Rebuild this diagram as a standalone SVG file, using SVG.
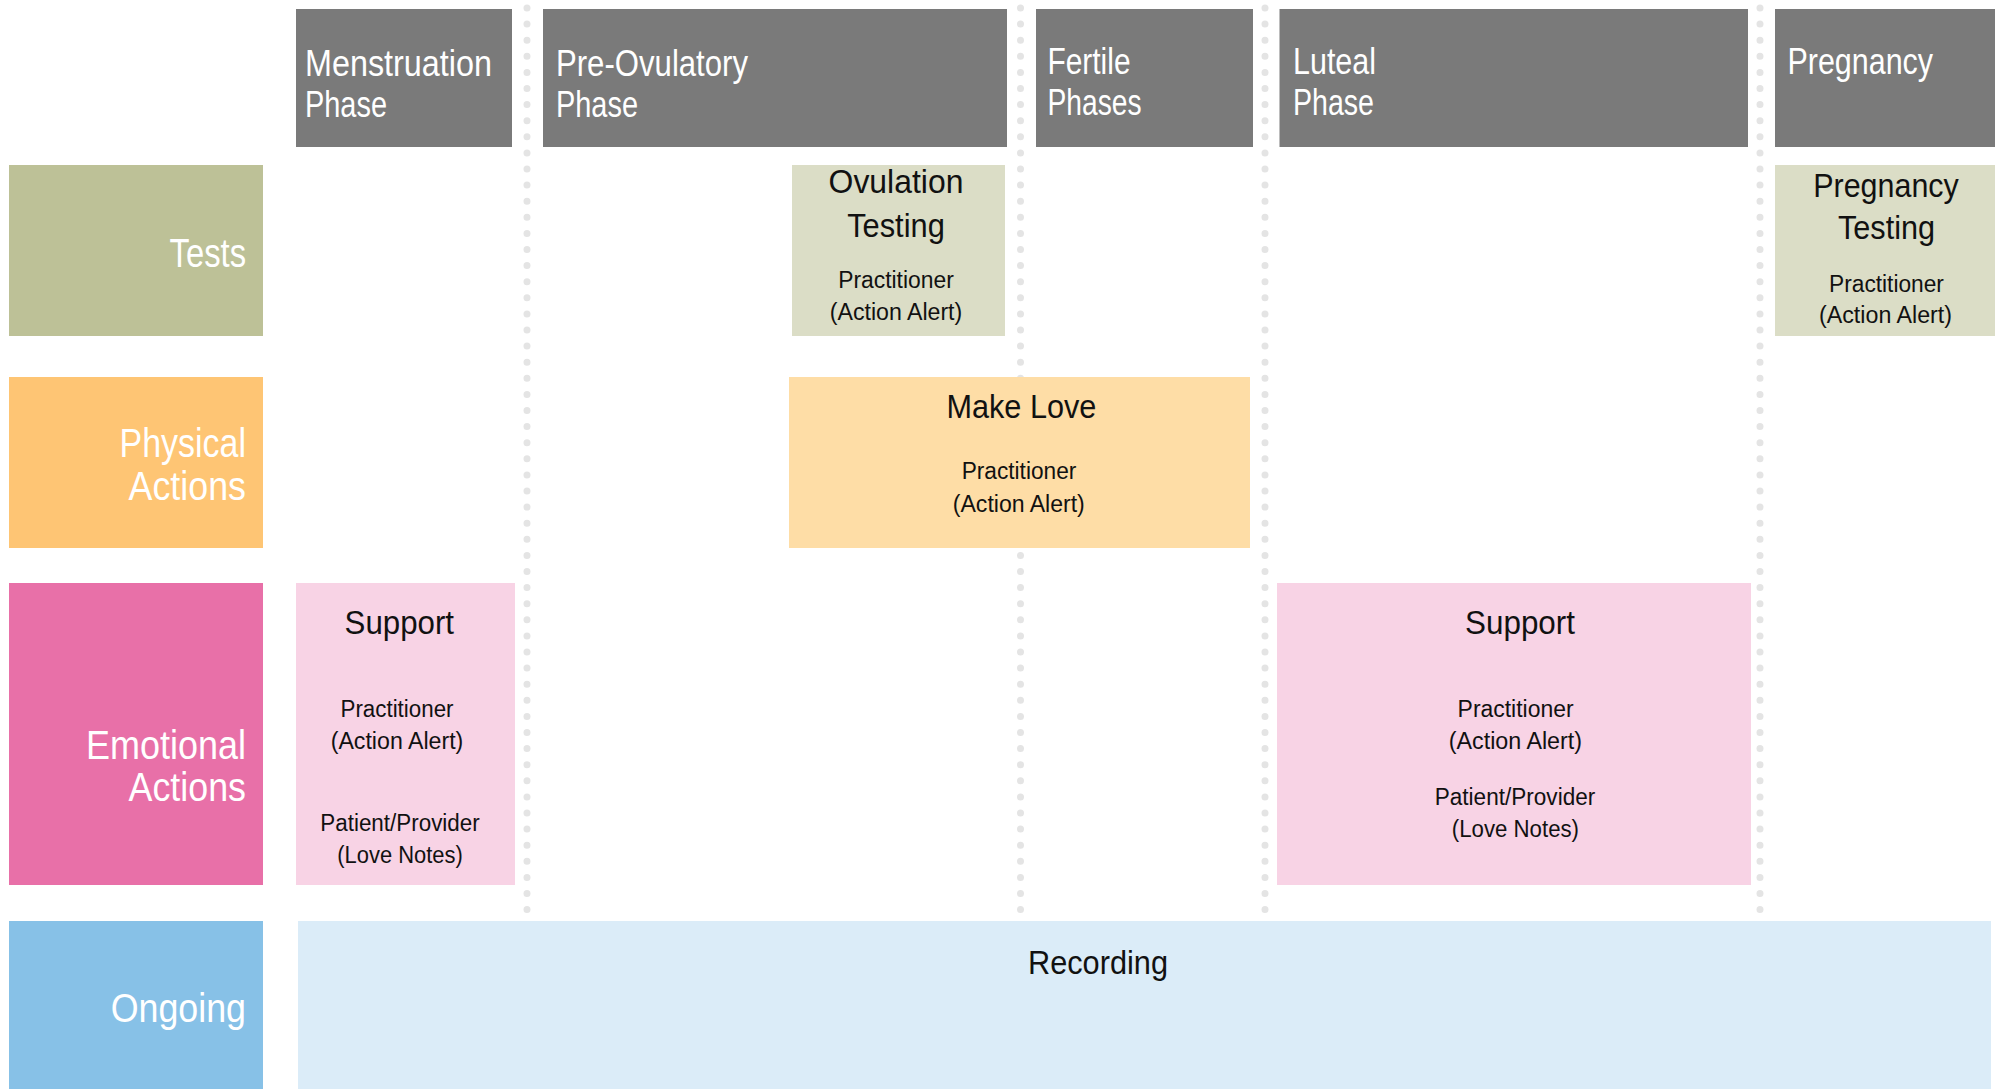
<svg xmlns="http://www.w3.org/2000/svg" width="1997" height="1089" viewBox="0 0 1997 1089">
<style>
  .hdr { fill: #7a7a7a; }
  .hdrt { font-family: "Liberation Sans", Arial, sans-serif; font-size: 36px; fill: #ffffff; }
  .rowt { font-family: "Liberation Sans", Arial, sans-serif; font-size: 40px; fill: #ffffff; text-anchor: end; }
  .ttl { font-family: "Liberation Sans", Arial, sans-serif; font-size: 34px; fill: #111111; text-anchor: middle; }
  .sub { font-family: "Liberation Sans", Arial, sans-serif; font-size: 23px; fill: #111111; text-anchor: middle; }
  .sep { stroke: #e4e4e4; stroke-width: 7; stroke-linecap: round; stroke-dasharray: 0 16.1; fill: none; }
</style>
<rect width="1997" height="1089" fill="#ffffff"/>

<g id="connectors">
  <line class="sep" x1="527" y1="8" x2="527" y2="914"/>
  <line class="sep" x1="1020.5" y1="8" x2="1020.5" y2="914"/>
  <line class="sep" x1="1265" y1="8" x2="1265" y2="914"/>
  <line class="sep" x1="1760" y1="8" x2="1760" y2="914"/>
</g>

<g id="hdr-menstruation">
  <rect class="hdr" x="296" y="9" width="216" height="138"/>
  <text class="hdrt" x="305" y="76" textLength="187" lengthAdjust="spacingAndGlyphs">Menstruation</text>
  <text class="hdrt" x="305" y="117" textLength="82" lengthAdjust="spacingAndGlyphs">Phase</text>
</g>
<g id="hdr-preovulatory">
  <rect class="hdr" x="543" y="9" width="464" height="138"/>
  <text class="hdrt" x="556" y="76" textLength="192" lengthAdjust="spacingAndGlyphs">Pre-Ovulatory</text>
  <text class="hdrt" x="556" y="117" textLength="82" lengthAdjust="spacingAndGlyphs">Phase</text>
</g>
<g id="hdr-fertile">
  <rect class="hdr" x="1036" y="9" width="217" height="138"/>
  <text class="hdrt" x="1047.5" y="73.5" textLength="83" lengthAdjust="spacingAndGlyphs">Fertile</text>
  <text class="hdrt" x="1047.5" y="114.5" textLength="94" lengthAdjust="spacingAndGlyphs">Phases</text>
</g>
<g id="hdr-luteal">
  <rect class="hdr" x="1279.5" y="9" width="468.5" height="138"/>
  <text class="hdrt" x="1293" y="73.5" textLength="83" lengthAdjust="spacingAndGlyphs">Luteal</text>
  <text class="hdrt" x="1293" y="114.5" textLength="81" lengthAdjust="spacingAndGlyphs">Phase</text>
</g>
<g id="hdr-pregnancy">
  <rect class="hdr" x="1775" y="9" width="220" height="138"/>
  <text class="hdrt" x="1787.5" y="74" textLength="145.5" lengthAdjust="spacingAndGlyphs">Pregnancy</text>
</g>

<g id="row-tests">
  <rect x="9" y="165" width="254" height="171" fill="#bdc197"/>
  <text class="rowt" x="246" y="267" textLength="76.4" lengthAdjust="spacingAndGlyphs">Tests</text>
</g>
<g id="row-physical">
  <rect x="9" y="377" width="254" height="171" fill="#fec574"/>
  <text class="rowt" x="246" y="457" textLength="126.4" lengthAdjust="spacingAndGlyphs">Physical</text>
  <text class="rowt" x="246" y="499.5" textLength="117.4" lengthAdjust="spacingAndGlyphs">Actions</text>
</g>
<g id="row-emotional">
  <rect x="9" y="583" width="254" height="302" fill="#e870a8"/>
  <text class="rowt" x="246" y="758.5" textLength="160" lengthAdjust="spacingAndGlyphs">Emotional</text>
  <text class="rowt" x="246" y="801" textLength="117.4" lengthAdjust="spacingAndGlyphs">Actions</text>
</g>
<g id="row-ongoing">
  <rect x="9" y="921" width="254" height="168" fill="#87c1e7"/>
  <text class="rowt" x="246" y="1021.7" textLength="135.3" lengthAdjust="spacingAndGlyphs">Ongoing</text>
</g>

<g id="ovulation-testing">
  <rect x="792" y="165" width="213" height="171" fill="#dbddc6"/>
  <text class="ttl" x="896" y="193.3" textLength="134.8" lengthAdjust="spacingAndGlyphs">Ovulation</text>
  <text class="ttl" x="896" y="237" textLength="97.6" lengthAdjust="spacingAndGlyphs">Testing</text>
  <text class="sub" x="896" y="288" textLength="115.6" lengthAdjust="spacingAndGlyphs">Practitioner</text>
  <text class="sub" x="896" y="320" textLength="132.5" lengthAdjust="spacingAndGlyphs">(Action Alert)</text>
</g>
<g id="pregnancy-testing">
  <rect x="1775" y="165" width="220" height="171" fill="#dbddc6"/>
  <text class="ttl" x="1886" y="196.7" textLength="145.5" lengthAdjust="spacingAndGlyphs">Pregnancy</text>
  <text class="ttl" x="1886.5" y="239" textLength="97" lengthAdjust="spacingAndGlyphs">Testing</text>
  <text class="sub" x="1886.5" y="291.7" textLength="114.8" lengthAdjust="spacingAndGlyphs">Practitioner</text>
  <text class="sub" x="1885.5" y="322.7" textLength="133" lengthAdjust="spacingAndGlyphs">(Action Alert)</text>
</g>
<g id="make-love">
  <rect x="789" y="377" width="461" height="171" fill="#fedda6"/>
  <text class="ttl" x="1021.4" y="418.3" font-size="35" textLength="150" lengthAdjust="spacingAndGlyphs">Make Love</text>
  <text class="sub" x="1019" y="479.3" textLength="114.7" lengthAdjust="spacingAndGlyphs">Practitioner</text>
  <text class="sub" x="1018.8" y="511.7" textLength="132" lengthAdjust="spacingAndGlyphs">(Action Alert)</text>
</g>
<g id="support-menstruation">
  <rect x="296" y="583" width="219" height="302" fill="#f8d3e5"/>
  <text class="ttl" x="399.3" y="634" textLength="109.4" lengthAdjust="spacingAndGlyphs">Support</text>
  <text class="sub" x="397" y="717" textLength="113" lengthAdjust="spacingAndGlyphs">Practitioner</text>
  <text class="sub" x="397" y="748.5" textLength="132.6" lengthAdjust="spacingAndGlyphs">(Action Alert)</text>
  <text class="sub" x="400" y="831" textLength="159.5" lengthAdjust="spacingAndGlyphs">Patient/Provider</text>
  <text class="sub" x="400" y="862.7" textLength="125.5" lengthAdjust="spacingAndGlyphs">(Love Notes)</text>
</g>
<g id="support-luteal">
  <rect x="1277" y="583" width="474" height="302" fill="#f8d3e5"/>
  <text class="ttl" x="1520" y="634" textLength="110" lengthAdjust="spacingAndGlyphs">Support</text>
  <text class="sub" x="1515.6" y="717" textLength="116" lengthAdjust="spacingAndGlyphs">Practitioner</text>
  <text class="sub" x="1515.4" y="748.5" textLength="133.3" lengthAdjust="spacingAndGlyphs">(Action Alert)</text>
  <text class="sub" x="1515" y="805" textLength="160.5" lengthAdjust="spacingAndGlyphs">Patient/Provider</text>
  <text class="sub" x="1515.4" y="836.7" textLength="127.2" lengthAdjust="spacingAndGlyphs">(Love Notes)</text>
</g>
<g id="recording">
  <rect x="298" y="921" width="1693" height="168" fill="#dbecf8"/>
  <text class="ttl" x="1098" y="974" font-size="36" textLength="140" lengthAdjust="spacingAndGlyphs">Recording</text>
</g>
</svg>
